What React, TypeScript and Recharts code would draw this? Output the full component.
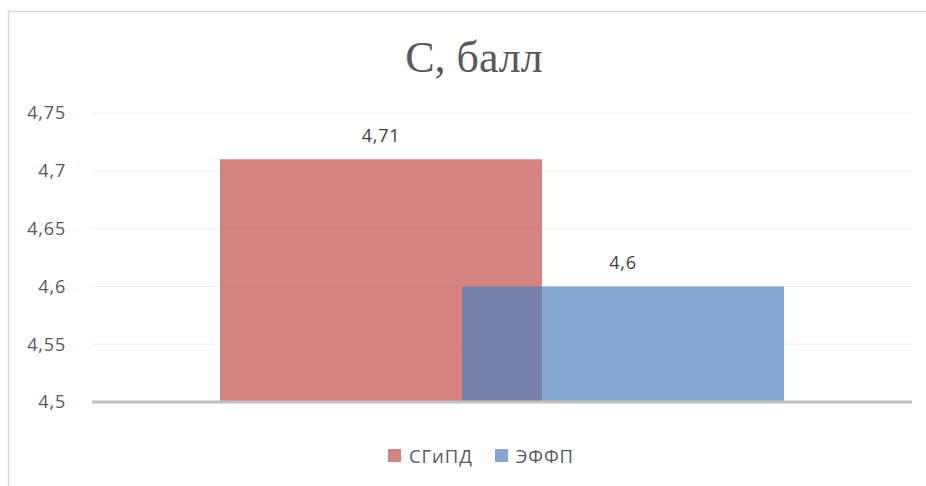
import React from 'react';
import { BarChart, Bar, XAxis, YAxis, CartesianGrid, LabelList, Legend } from 'recharts';

const categories = ['С, балл'];
const seriesNames = ['СГиПД', 'ЭФФП'];
const sgipdValues = [4.71];
const effpValues = [4.6];
const yTicks = [4.5, 4.55, 4.6, 4.65, 4.7, 4.75];
const title = 'С, балл';

const data = categories.map((c, i) => ({ name: c, s1: sgipdValues[i], s2: effpValues[i] }));

const RED = '#C0504D';
const BLUE = '#4F81BD';
const FONT = '"Open Sans", sans-serif';

const fmt = (v: number) => String(v).replace('.', ',');

const LegendContent = () => (
  <div style={{ display: 'flex', justifyContent: 'center', alignItems: 'center', fontFamily: FONT, fontSize: 18.5, color: '#595959', letterSpacing: 0.9 }}>
    {[RED, BLUE].map((c, i) => (
      <div key={i} style={{ display: 'flex', alignItems: 'center', marginRight: i === 0 ? 22 : 0 }}>
        <span style={{ display: 'inline-block', width: 13, height: 13, background: c, opacity: 0.7, marginRight: 8 }} />
        <span>{seriesNames[i]}</span>
      </div>
    ))}
  </div>
);

export default function App() {
  return (
    <div style={{ position: 'absolute', left: 0, top: 0, width: 926, height: 486, background: '#fff' }}>
      <BarChart width={926} height={486} data={data} margin={{ top: 113, right: 14, bottom: 83, left: 0 }} barGap={-80}>
        <CartesianGrid horizontal vertical={false} stroke="#eeeeee" strokeWidth={1} />
        <XAxis dataKey="name" tick={false} tickLine={false} height={1} axisLine={{ stroke: '#bfbfbf', strokeWidth: 3 }} />
        <YAxis
          width={92}
          domain={[4.5, 4.75]}
          ticks={yTicks}
          tickFormatter={fmt}
          axisLine={false}
          tickLine={false}
          tickSize={0}
          tickMargin={26}
          interval={0}
          tick={{ fill: '#595959', fontSize: 18, fontFamily: FONT, letterSpacing: 0.8 }}
        />
        <Legend verticalAlign="middle" align="center" layout="horizontal" content={<LegendContent />} wrapperStyle={{ top: 443, left: 18, width: 926 }} />
        <Bar dataKey="s1" name={seriesNames[0]} fill={RED} fillOpacity={0.7} barSize={322} isAnimationActive={false}>
          <LabelList dataKey="s1" position="top" offset={17} formatter={(v: any) => fmt(v)} style={{ fill: '#404040', fontSize: 18, fontFamily: FONT, letterSpacing: 0.8 }} />
        </Bar>
        <Bar dataKey="s2" name={seriesNames[1]} fill={BLUE} fillOpacity={0.7} barSize={322} isAnimationActive={false}>
          <LabelList dataKey="s2" position="top" offset={17} formatter={(v: any) => fmt(v)} style={{ fill: '#404040', fontSize: 18, fontFamily: FONT, letterSpacing: 0.8 }} />
        </Bar>
      </BarChart>
      <svg width={926} height={486} style={{ position: 'absolute', left: 0, top: 0, pointerEvents: 'none' }}>
        <line x1={8.5} y1={11} x2={8.5} y2={486} stroke="#d9d9d9" strokeWidth={1.5} />
        <line x1={8} y1={11.5} x2={926} y2={11.5} stroke="#d9d9d9" strokeWidth={1.5} />
        <text x={474} y={72} textAnchor="middle" fontFamily='"Liberation Serif", serif' fontSize={44} fill="#595959">{title}</text>
      </svg>
    </div>
  );
}
